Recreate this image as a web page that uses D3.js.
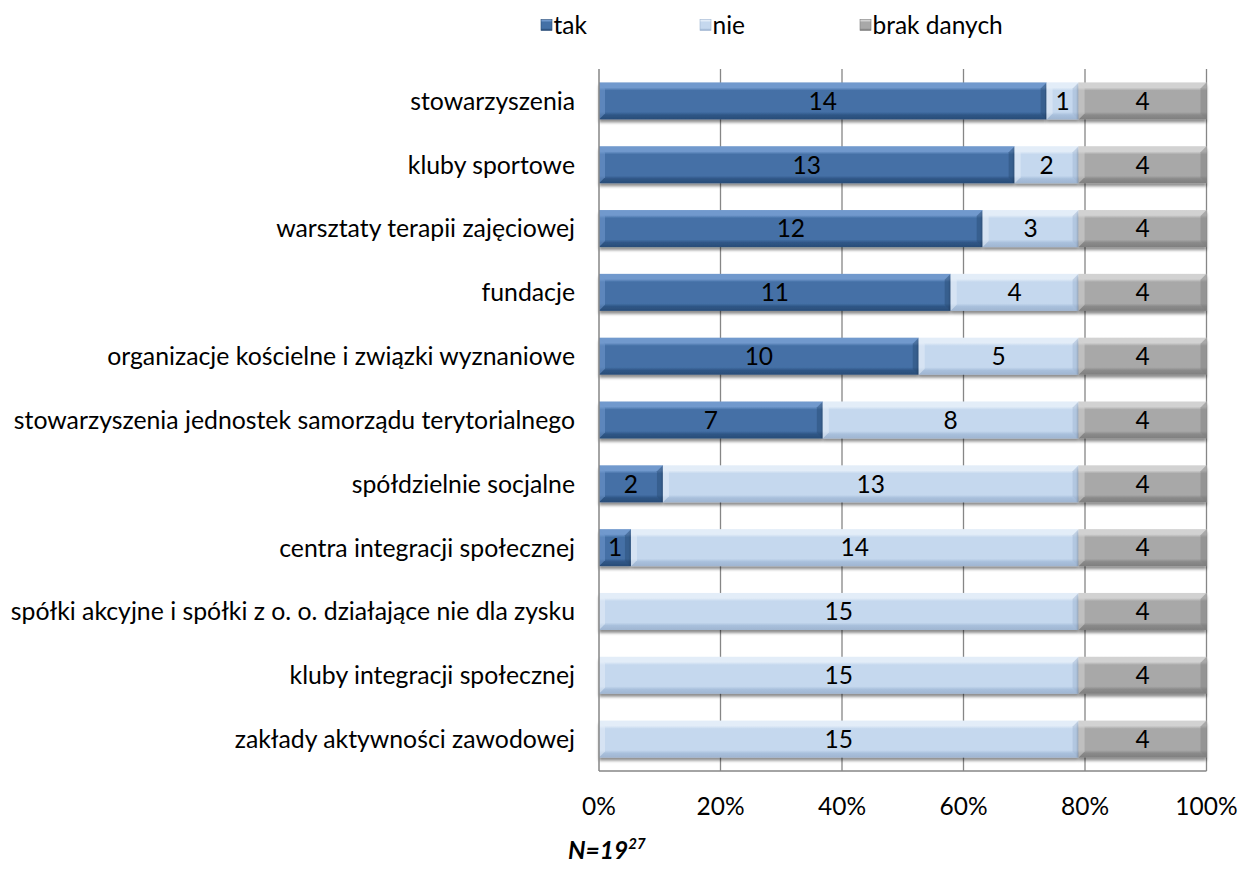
<!DOCTYPE html>
<html><head><meta charset="utf-8">
<script src="https://cdn.jsdelivr.net/npm/d3@7"></script>
<style>
body{margin:0;background:#fff;}
svg{display:block;font-family:Lato,"Open Sans",sans-serif;}
</style></head>
<body>
<svg id="c" width="1238" height="869"></svg>
<script>
const categories = [
  "stowarzyszenia",
  "kluby sportowe",
  "warsztaty terapii zajęciowej",
  "fundacje",
  "organizacje kościelne i związki wyznaniowe",
  "stowarzyszenia jednostek samorządu terytorialnego",
  "spółdzielnie socjalne",
  "centra integracji społecznej",
  "spółki akcyjne i spółki z o. o. działające nie dla zysku",
  "kluby integracji społecznej",
  "zakłady aktywności zawodowej"
];
const seriesNames = ["tak", "nie", "brak danych"];
const takValues  = [14, 13, 12, 11, 10, 7, 2, 1, 0, 0, 0];
const nieValues  = [1, 2, 3, 4, 5, 8, 13, 14, 15, 15, 15];
const brakValues = [4, 4, 4, 4, 4, 4, 4, 4, 4, 4, 4];
const tickValues = [0, 0.2, 0.4, 0.6, 0.8, 1.0];
const footnote = "N=19";
const footnoteSup = "27";

const colors = {
  "tak": {mid:"#4470a6", top:"#7199cd", bot:"#2f5686", edge:"#2a4d78"},
  "nie": {mid:"#c5d8ee", top:"#e3edf8", bot:"#a9c0dc", edge:"#9fb5d1"},
  "brak danych": {mid:"#a8a8a8", top:"#d2d2d2", bot:"#8a8a8a", edge:"#7f7f7f"}
};
const FS = 24.5;

const svg = d3.select("#c");
const defs = svg.append("defs");
seriesNames.forEach((s,i)=>{
  const c = colors[s];
  const g = defs.append("linearGradient").attr("id","g"+i).attr("x1",0).attr("y1",0).attr("x2",0).attr("y2",1);
  g.append("stop").attr("offset","0%").attr("stop-color",c.top);
  g.append("stop").attr("offset","14%").attr("stop-color",c.top);
  g.append("stop").attr("offset","22%").attr("stop-color",c.mid);
  g.append("stop").attr("offset","80%").attr("stop-color",c.mid);
  g.append("stop").attr("offset","88%").attr("stop-color",c.bot);
  g.append("stop").attr("offset","100%").attr("stop-color",c.edge);
});
const sh = defs.append("filter").attr("id","sh").attr("x","-5%").attr("y","-20%").attr("width","110%").attr("height","160%");
sh.append("feGaussianBlur").attr("in","SourceAlpha").attr("stdDeviation",1.6);
sh.append("feOffset").attr("dx",0).attr("dy",2.5).attr("result","b");
sh.append("feComponentTransfer").append("feFuncA").attr("type","linear").attr("slope",0.45);
const fm = sh.append("feMerge"); fm.append("feMergeNode"); fm.append("feMergeNode").attr("in","SourceGraphic");

const pLeft = 599, pRight = 1206.5, pTop = 69, pBottom = 771;
const x = d3.scaleLinear().domain([0,1]).range([pLeft,pRight]);
const y = d3.scaleBand().domain(categories).range([pTop,pBottom]).paddingInner(0.42).paddingOuter(0.21);

const gridG = svg.append("g");
gridG.selectAll("line").data(tickValues.slice(1)).join("line")
  .attr("x1",d=>x(d)).attr("x2",d=>x(d)).attr("y1",pTop).attr("y2",pBottom)
  .attr("stroke","#868686").attr("stroke-width",1.3);

const data = categories.map((c,i)=>{
  const vals = [takValues[i], nieValues[i], brakValues[i]];
  const tot = d3.sum(vals);
  let acc = 0;
  return vals.map((v,j)=>{ const s = {cat:c, series:j, v, x0:acc/tot, x1:(acc+v)/tot}; acc+=v; return s; });
}).flat().filter(d=>d.v>0);

const bh = y.bandwidth();
const segG = svg.append("g");
const seg = segG.selectAll("g").data(data).join("g");
seg.append("rect")
  .attr("x",d=>x(d.x0)).attr("y",d=>y(d.cat)).attr("width",d=>x(d.x1)-x(d.x0)).attr("height",bh)
  .attr("fill",d=>`url(#g${d.series})`).attr("filter","url(#sh)");
const bv = 6;
seg.append("path").attr("d",d=>{
  const x0=x(d.x0), y0=y(d.cat), w=Math.min(bv,(x(d.x1)-x(d.x0))/2);
  return `M${x0},${y0}L${x0+w},${y0+bv}L${x0+w},${y0+bh-bv}L${x0},${y0+bh}Z`;
}).attr("fill",d=>colors[seriesNames[d.series]].top).attr("opacity",0.55);
seg.append("path").attr("d",d=>{
  const x1=x(d.x1), y0=y(d.cat), w=Math.min(bv,(x(d.x1)-x(d.x0))/2);
  return `M${x1},${y0}L${x1-w},${y0+bv}L${x1-w},${y0+bh-bv}L${x1},${y0+bh}Z`;
}).attr("fill",d=>colors[seriesNames[d.series]].edge).attr("opacity",0.5);
seg.append("text")
  .attr("x",d=>(x(d.x0)+x(d.x1))/2).attr("y",d=>y(d.cat)+bh/2)
  .attr("dy","0.36em").attr("text-anchor","middle").attr("font-size",FS).attr("fill","#000")
  .text(d=>d.v);

svg.append("line").attr("x1",pLeft).attr("x2",pLeft).attr("y1",pTop).attr("y2",pBottom).attr("stroke","#868686").attr("stroke-width",1.5);
svg.append("line").attr("x1",pLeft).attr("x2",pRight).attr("y1",pBottom).attr("y2",pBottom).attr("stroke","#868686").attr("stroke-width",1.5);

svg.append("g").selectAll("text").data(categories).join("text")
  .attr("x",575).attr("y",d=>y(d)+bh/2).attr("dy","0.36em").attr("text-anchor","end")
  .attr("font-size",24.8).attr("fill","#000").text(d=>d);

const fmt = d3.format(".0%");
svg.append("g").selectAll("text").data(tickValues).join("text")
  .attr("x",d=>x(d)).attr("y",806).attr("dy","0.36em").attr("text-anchor","middle")
  .attr("font-size",FS).attr("fill","#000").text(d=>fmt(d));

const legX = [541, 700, 860];
const leg = svg.append("g").selectAll("g").data(seriesNames).join("g")
  .attr("transform",(d,i)=>`translate(${legX[i]},25)`);
leg.append("rect").attr("x",0).attr("y",-5.5).attr("width",11).attr("height",11)
  .attr("fill",(d,i)=>`url(#g${i})`).attr("stroke",d=>colors[d].edge).attr("stroke-width",0.6);
leg.append("text").attr("x",12.5).attr("y",0).attr("dy","0.36em").attr("font-size",FS).text(d=>d);

const fn = svg.append("text").attr("x",568).attr("y",850).attr("dy","0.36em")
  .attr("font-size",FS).attr("font-weight","bold").attr("font-style","italic");
fn.append("tspan").text(footnote);
fn.append("tspan").attr("dy",-10).attr("font-size",15).text(footnoteSup);
</script>
</body></html>
